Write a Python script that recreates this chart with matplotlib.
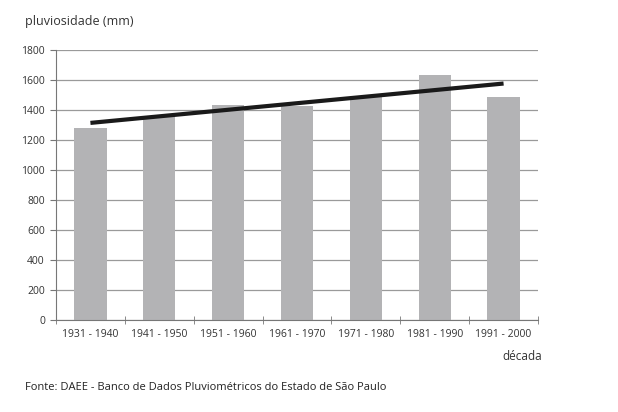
import numpy as np
import matplotlib
matplotlib.use('Agg')
import matplotlib.pyplot as plt

# dados
decadas = ['1931 - 1940', '1941 - 1950', '1951 - 1960', '1961 - 1970',
           '1971 - 1980', '1981 - 1990', '1991 - 2000']
chuva = [1282, 1356, 1432, 1429, 1496, 1630, 1487]
yticks = [0, 200, 400, 600, 800, 1000, 1200, 1400, 1600, 1800]

plt.rcParams['font.family'] = ['Open Sans', 'DejaVu Sans']

fig = plt.figure(figsize=(6.18, 4.12), dpi=100)
ax = fig.add_axes([56/618, 1-319.5/412, (538-56)/618, (319.5-50)/412])

x = np.arange(len(decadas))
ax.bar(x, chuva, width=0.47, color='#b3b3b5', zorder=2)

# linha de tendencia
a, b = np.polyfit(x, chuva, 1)
ax.plot([x[0], x[-1]], [a*x[0]+b, a*x[-1]+b], color='#1a1a1a', lw=3, zorder=3,
        solid_capstyle='butt')

ax.set_xlim(-0.5, len(decadas)-0.5)
ax.set_ylim(0, 1800)
ax.set_yticks(yticks)
ax.set_yticklabels([str(v) for v in yticks], fontsize=7.5, color='#333333')
ax.yaxis.grid(True, color='#9a9a9a', lw=0.9, zorder=0)
ax.set_axisbelow(True)

ax.set_xticks(x)
ax.set_xticklabels(decadas, fontsize=7.5, color='#333333')
ax.tick_params(axis='x', length=0, pad=7)
ax.set_xticks(np.arange(-0.5, len(decadas)), minor=True)
ax.tick_params(axis='x', which='minor', length=6, direction='inout', color='#777777')
ax.tick_params(axis='y', length=4, color='#777777', pad=4)

for s in ['top', 'right']:
    ax.spines[s].set_visible(False)
ax.spines['left'].set_color('#777777')
ax.spines['bottom'].set_color('#777777')

fig.text(25/618, 1-21/412, 'pluviosidade (mm)', fontsize=9, color='#333333',
         ha='left', va='center')
fig.text(542/618, 1-357/412, 'década', fontsize=8.5, color='#333333',
         ha='right', va='center')
fig.text(25/618, 1-387/412, 'Fonte: DAEE - Banco de Dados Pluviométricos do Estado de São Paulo',
         fontsize=8, color='#222222', ha='left', va='center')

fig.savefig('out.png', dpi=100)
